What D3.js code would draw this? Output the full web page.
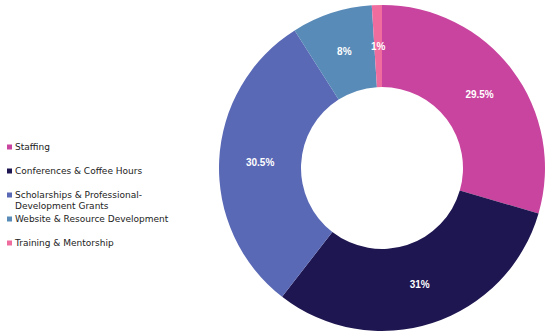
<!DOCTYPE html>
<html>
<head>
<meta charset="utf-8">
<script src="https://cdn.jsdelivr.net/npm/d3@7"></script>
<style>
  body { margin: 0; background: #fff; }
</style>
</head>
<body>
<script>
const categories = ["Staffing", "Conferences & Coffee Hours", "Scholarships & Professional-Development Grants", "Website & Resource Development", "Training & Mentorship"];
const legendLines = [["Staffing"], ["Conferences & Coffee Hours"], ["Scholarships & Professional-", "Development Grants"], ["Website & Resource Development"], ["Training & Mentorship"]];
const values = [29.5, 31, 30.5, 8, 1];
const labels = ["29.5%", "31%", "30.5%", "8%", "1%"];
const colors = ["#c9449e", "#1e1650", "#5a69b6", "#598bb8", "#ef6d9e"];

const W = 550, H = 336;
const cx = 382, cy = 168, outerR = 163, innerR = 81;

const svg = d3.select("body").append("svg").attr("width", W).attr("height", H);

const color = d3.scaleOrdinal().domain(categories).range(colors);

const pie = d3.pie().sort(null).value(d => d.value);
const data = categories.map((c, i) => ({ name: c, value: values[i], label: labels[i] }));
const arcs = pie(data);
const arc = d3.arc().innerRadius(innerR).outerRadius(outerR);

const g = svg.append("g").attr("transform", `translate(${cx},${cy})`);

g.selectAll("path")
  .data(arcs)
  .join("path")
  .attr("d", arc)
  .attr("fill", d => color(d.data.name));

g.selectAll("text.lbl")
  .data(arcs)
  .join("text")
  .attr("class", "lbl")
  .attr("transform", d => `translate(${arc.centroid(d)})`)
  .attr("text-anchor", "middle")
  .attr("dy", "0.35em")
  .style("font", "bold 10px 'Liberation Sans', Arial, sans-serif")
  .style("fill", "#fff")
  .text(d => d.data.label);

// legend
const legendY = [147, 171, 195, 219, 243];
const lg = svg.append("g");
legendLines.forEach((lines, i) => {
  const row = lg.append("g").attr("transform", `translate(7,${legendY[i]})`);
  row.append("rect").attr("x", 0).attr("y", -2.5).attr("width", 5).attr("height", 5)
    .attr("fill", colors[i]);
  const t = row.append("text")
    .attr("x", 8)
    .attr("y", 0)
    .style("font", "9px 'DejaVu Sans', sans-serif")
    .style("fill", "#222");
  lines.forEach((l, j) => {
    t.append("tspan").attr("x", 8).attr("dy", j === 0 ? "0.35em" : "11").text(l);
  });
});
</script>
</body>
</html>
